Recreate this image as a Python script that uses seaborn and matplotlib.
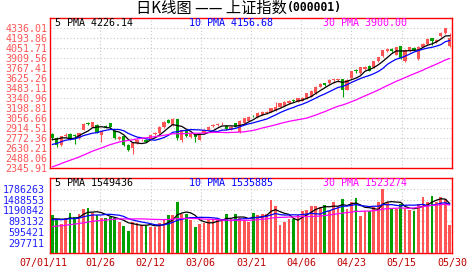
import numpy as np
import pandas as pd
import matplotlib
matplotlib.use("Agg")
import matplotlib.pyplot as plt
import seaborn as sns
from matplotlib.transforms import ScaledTranslation

# ---------------- data ----------------
x_labels = ["07/01/11", "01/26", "02/12", "03/06", "03/21", "04/06", "04/23", "05/15", "05/30"]
price_ticks = ["2345.91", "2488.06", "2630.21", "2772.36", "2914.51", "3056.66", "3198.81",
               "3340.96", "3483.11", "3625.26", "3767.41", "3909.56", "4051.71", "4193.86", "4336.01"]
volume_ticks = ["297711", "595421", "893132", "1190842", "1488553", "1786263"]
price_legend = ["5 PMA 4226.14", "10 PMA 4156.68", "30 PMA 3900.00"]
volume_legend = ["5 PMA 1549436", "10 PMA 1535885", "30 PMA 1523274"]

open_ = [2835, 2775, 2668, 2805, 2830, 2820, 2770, 2890, 2985, 2935,
         2958, 2815, 2945, 2980, 2870, 2755, 2798, 2670, 2625, 2700,
         2738, 2744, 2744, 2828, 2840, 2925, 3028, 2960, 3045, 2745,
         2885, 2790, 2820, 2750, 2850, 2890, 2945, 2960, 2965, 2945,
         2888, 2980, 2862, 2985, 3014, 3090, 3075, 3100, 3125, 3147,
         3170, 3218, 3232, 3265, 3313, 3289, 3303, 3336, 3360, 3407,
         3502, 3550, 3554, 3600, 3602, 3611, 3460, 3620, 3740, 3696,
         3760, 3801, 3777, 3862, 3933, 4004, 4038, 3957, 4075, 3862,
         4004, 4050, 3890, 4070, 4110, 4190, 4130, 4218, 4270, 4087]
high = [2845, 2782, 2800, 2840, 2842, 2835, 2850, 2985, 3005, 3000,
        2965, 2870, 2960, 2990, 2880, 2800, 2805, 2680, 2705, 2755,
        2765, 2755, 2820, 2860, 2940, 3012, 3040, 3050, 3049, 2890,
        2895, 2850, 2830, 2830, 2895, 2940, 2975, 2990, 2995, 2960,
        2940, 2990, 3035, 3058, 3080, 3100, 3140, 3155, 3160, 3200,
        3289, 3270, 3295, 3315, 3325, 3345, 3350, 3412, 3452, 3510,
        3548, 3560, 3610, 3615, 3618, 3615, 3608, 3730, 3760, 3785,
        3790, 3810, 3870, 3930, 4030, 4052, 4050, 4070, 4080, 4035,
        4068, 4060, 4080, 4125, 4190, 4196, 4180, 4280, 4336.01, 4270]
low = [2750, 2650, 2660, 2790, 2745, 2680, 2760, 2880, 2960, 2925,
       2840, 2720, 2915, 2925, 2755, 2740, 2660, 2590, 2541, 2690,
       2725, 2712, 2738, 2815, 2832, 2918, 2980, 2950, 2750, 2720,
       2780, 2770, 2720, 2745, 2840, 2880, 2935, 2950, 2955, 2885,
       2880, 2925, 2850, 2978, 3008, 3065, 3068, 3095, 3115, 3140,
       3160, 3210, 3225, 3258, 3280, 3280, 3295, 3330, 3355, 3400,
       3495, 3518, 3545, 3560, 3565, 3355, 3450, 3610, 3700, 3685,
       3745, 3720, 3770, 3855, 3925, 3995, 3995, 3950, 3890, 3850,
       3995, 4015, 3875, 4060, 4100, 4100, 4120, 4210, 4250, 4060]
close = [2770, 2668, 2794, 2821, 2760, 2800, 2845, 2975, 2975, 2995,
         2850, 2870, 2925, 2935, 2767, 2790, 2673, 2605, 2696, 2744,
         2748, 2722, 2815, 2845, 2933, 3004, 2990, 3045, 2771, 2881,
         2805, 2835, 2785, 2820, 2885, 2930, 2955, 2970, 2975, 2895,
         2930, 2935, 3020, 3050, 3075, 3080, 3133, 3147, 3147, 3194,
         3218, 3265, 3289, 3303, 3295, 3336, 3336, 3407, 3445, 3502,
         3540, 3530, 3602, 3611, 3612, 3460, 3602, 3720, 3725, 3777,
         3775, 3730, 3862, 3919, 4023, 4042, 4004, 4061, 3915, 4028,
         4061, 4030, 4072, 4110, 4181, 4155, 4169, 4272, 4334, 4200]
volume = [1064000, 950000, 815000, 970000, 1110000, 1000000, 1090000, 1230000, 1250000, 1130000,
          1060000, 970000, 970000, 1000000, 970000, 880000, 760000, 630000, 880000, 830000,
          790000, 760000, 720000, 720000, 850000, 940000, 1050000, 1060000, 1430000, 1090000,
          1090000, 930000, 720000, 810000, 830000, 930000, 940000, 930000, 940000, 1090000,
          940000, 1090000, 970000, 930000, 880000, 1110000, 1060000, 1090000, 1090000, 1480000,
          1320000, 790000, 860000, 940000, 940000, 1060000, 1180000, 1200000, 1320000, 1320000,
          1280000, 1340000, 1180000, 1410000, 1310000, 1500000, 1220000, 1410000, 1530000, 1040000,
          1160000, 1180000, 1280000, 1410000, 1786263, 1430000, 1250000, 1220000, 1370000, 1220000,
          1200000, 1160000, 1370000, 1550000, 1410000, 1590000, 1430000, 1570000, 1500000, 790000]
# sessions before the window (used only for the moving averages)
prior_close = [2040, 2050, 2070, 2090, 2110, 2140, 2160, 2150, 2140, 2170,
               2200, 2200, 2210, 2220, 2250, 2290, 2330, 2380, 2400, 2470,
               2520, 2560, 2600, 2660, 2715, 2641, 2707, 2807, 2825]
prior_volume = [500000, 520000, 550000, 560000, 590000, 610000, 640000, 600000, 570000, 620000,
                670000, 640000, 620000, 600000, 670000, 720000, 770000, 820000, 740000, 870000,
                840000, 900000, 870000, 920000, 1000000, 950000, 850000, 980000, 920000]

# ---------------- style ----------------
sns.set_style("white")
plt.rcParams['font.family'] = ['DejaVu Sans Mono']
MONO = 'DejaVu Sans Mono'
RED = '#FF5555'
GREEN = '#00A000'
FRAME = '#FF0000'
GRID = '#C8C8C8'

n = len(close)
idx = np.arange(n)
o = np.array(open_, float); c = np.array(close, float)
h = np.array(high, float); l = np.array(low, float)
v = np.array(volume, float)
up = c >= o
cols = np.where(up, RED, GREEN)

all_c = pd.Series(prior_close + close, dtype=float)
all_v = pd.Series(prior_volume + volume, dtype=float)
k = len(prior_close)
ma = {w: all_c.rolling(w).mean().values[k:] for w in (5, 10, 30)}
vma = {w: all_v.rolling(w).mean().values[k:] for w in (5, 10, 30)}

df = pd.DataFrame({'i': idx, 'vol': v, 'dir': np.where(up, 'up', 'down')})

W, H = 472, 273
fig = plt.figure(figsize=(W / 100, H / 100), dpi=100)


def rect(x0, y0, x1, y1):
    return [x0 / W, 1 - y1 / H, (x1 - x0) / W, (y1 - y0) / H]


ax1 = fig.add_axes(rect(50, 18, 452, 168))
ax2 = fig.add_axes(rect(50, 178, 452, 253.4))

# ---- candles ----
ax1.vlines(idx, l, h, colors=cols, lw=0.8, zorder=3)
body_bottom = np.minimum(o, c)
body_h = np.maximum(np.abs(c - o), 12)
ax1.bar(idx, body_h, bottom=body_bottom, width=0.72, color=cols, linewidth=0, zorder=3)

line_cols = {5: '#000000', 10: '#0000FF', 30: '#FF00FF'}
for w in (5, 10, 30):
    sns.lineplot(x=idx, y=ma[w], ax=ax1, color=line_cols[w], lw=0.9, zorder=4)

# ---- volume ----
sns.barplot(data=df, x='i', y='vol', hue='dir', palette={'up': RED, 'down': GREEN},
            dodge=False, legend=False, width=0.62, saturation=1, errorbar=None,
            linewidth=0, ax=ax2, zorder=3)
for w in (5, 10, 30):
    sns.lineplot(x=idx, y=vma[w], ax=ax2, color=line_cols[w], lw=0.9, zorder=4)

# ---- axes setup ----
pt = [float(t) for t in price_ticks]
vt = [float(t) for t in volume_ticks]
xpos = np.linspace(-0.5, n - 0.5, len(x_labels))

for ax in (ax1, ax2):
    ax.set_xlim(-0.5, n - 0.5)
    ax.set_xticks(xpos)
    ax.set_xlabel('')
    ax.set_ylabel('')
    ax.grid(True, color=GRID, linestyle=(0, (1, 2)), lw=0.8)
    ax.set_axisbelow(True)
    ax.tick_params(length=0)
    for s in ('top', 'right', 'bottom'):
        ax.spines[s].set_color(FRAME)
        ax.spines[s].set_linewidth(1.0)
        ax.spines[s].set_visible(True)
    ax.spines['left'].set_color(FRAME)
    ax.spines['left'].set_linewidth(1.0)
    ax.spines['left'].set_linestyle((0, (1, 1)))
    ax.set_facecolor('white')

ax1.set_ylim(pt[0], pt[-1] + (pt[-1] - pt[-2]))
ax1.set_yticks(pt)
ax1.set_yticklabels(price_ticks, fontsize=7.2, color=RED, family=MONO)
ax1.tick_params(axis='y', pad=2)
ax1.set_xticklabels([])

ax2.set_ylim(0, vt[-1] + (vt[-1] - vt[-2]))
ax2.set_yticks(vt)
ax2.set_yticklabels(volume_ticks, fontsize=7.2, color='#2020FF', family=MONO)
ax2.tick_params(axis='y', pad=4)
ax2.set_xticklabels(x_labels, fontsize=7.2, color='#C00000', family=MONO)
ax2.tick_params(axis='x', pad=3.5)
lab0 = ax2.get_xticklabels()[0]
lab0.set_transform(lab0.get_transform() + ScaledTranslation(-7 / 100, 0, fig.dpi_scale_trans))

leg_cols = ['#000000', '#0000FF', '#FF00FF']
for j, (t, cc) in enumerate(zip(price_legend, leg_cols)):
    ax1.text(j / 3 + 0.012, 0.967, t, transform=ax1.transAxes, color=cc,
             fontsize=7.2, family=MONO, va='center', ha='left')
for j, (t, cc) in enumerate(zip(volume_legend, leg_cols)):
    ax2.text(j / 3 + 0.012, 0.93, t, transform=ax2.transAxes, color=cc,
             fontsize=7.2, family=MONO, va='center', ha='left')

# ---- title ----
fig.text(287 / W, 1 - 8 / H, '日K线图 —— 上证指数', ha='right', va='center',
         fontsize=11, family=['Noto Sans CJK SC', 'DejaVu Sans'], color='black')
fig.text(287 / W, 1 - 8 / H, '(000001)', ha='left', va='center',
         fontsize=8.3, family=MONO, fontweight='bold', color='black')

fig.savefig('out.png', dpi=100, facecolor='white')
